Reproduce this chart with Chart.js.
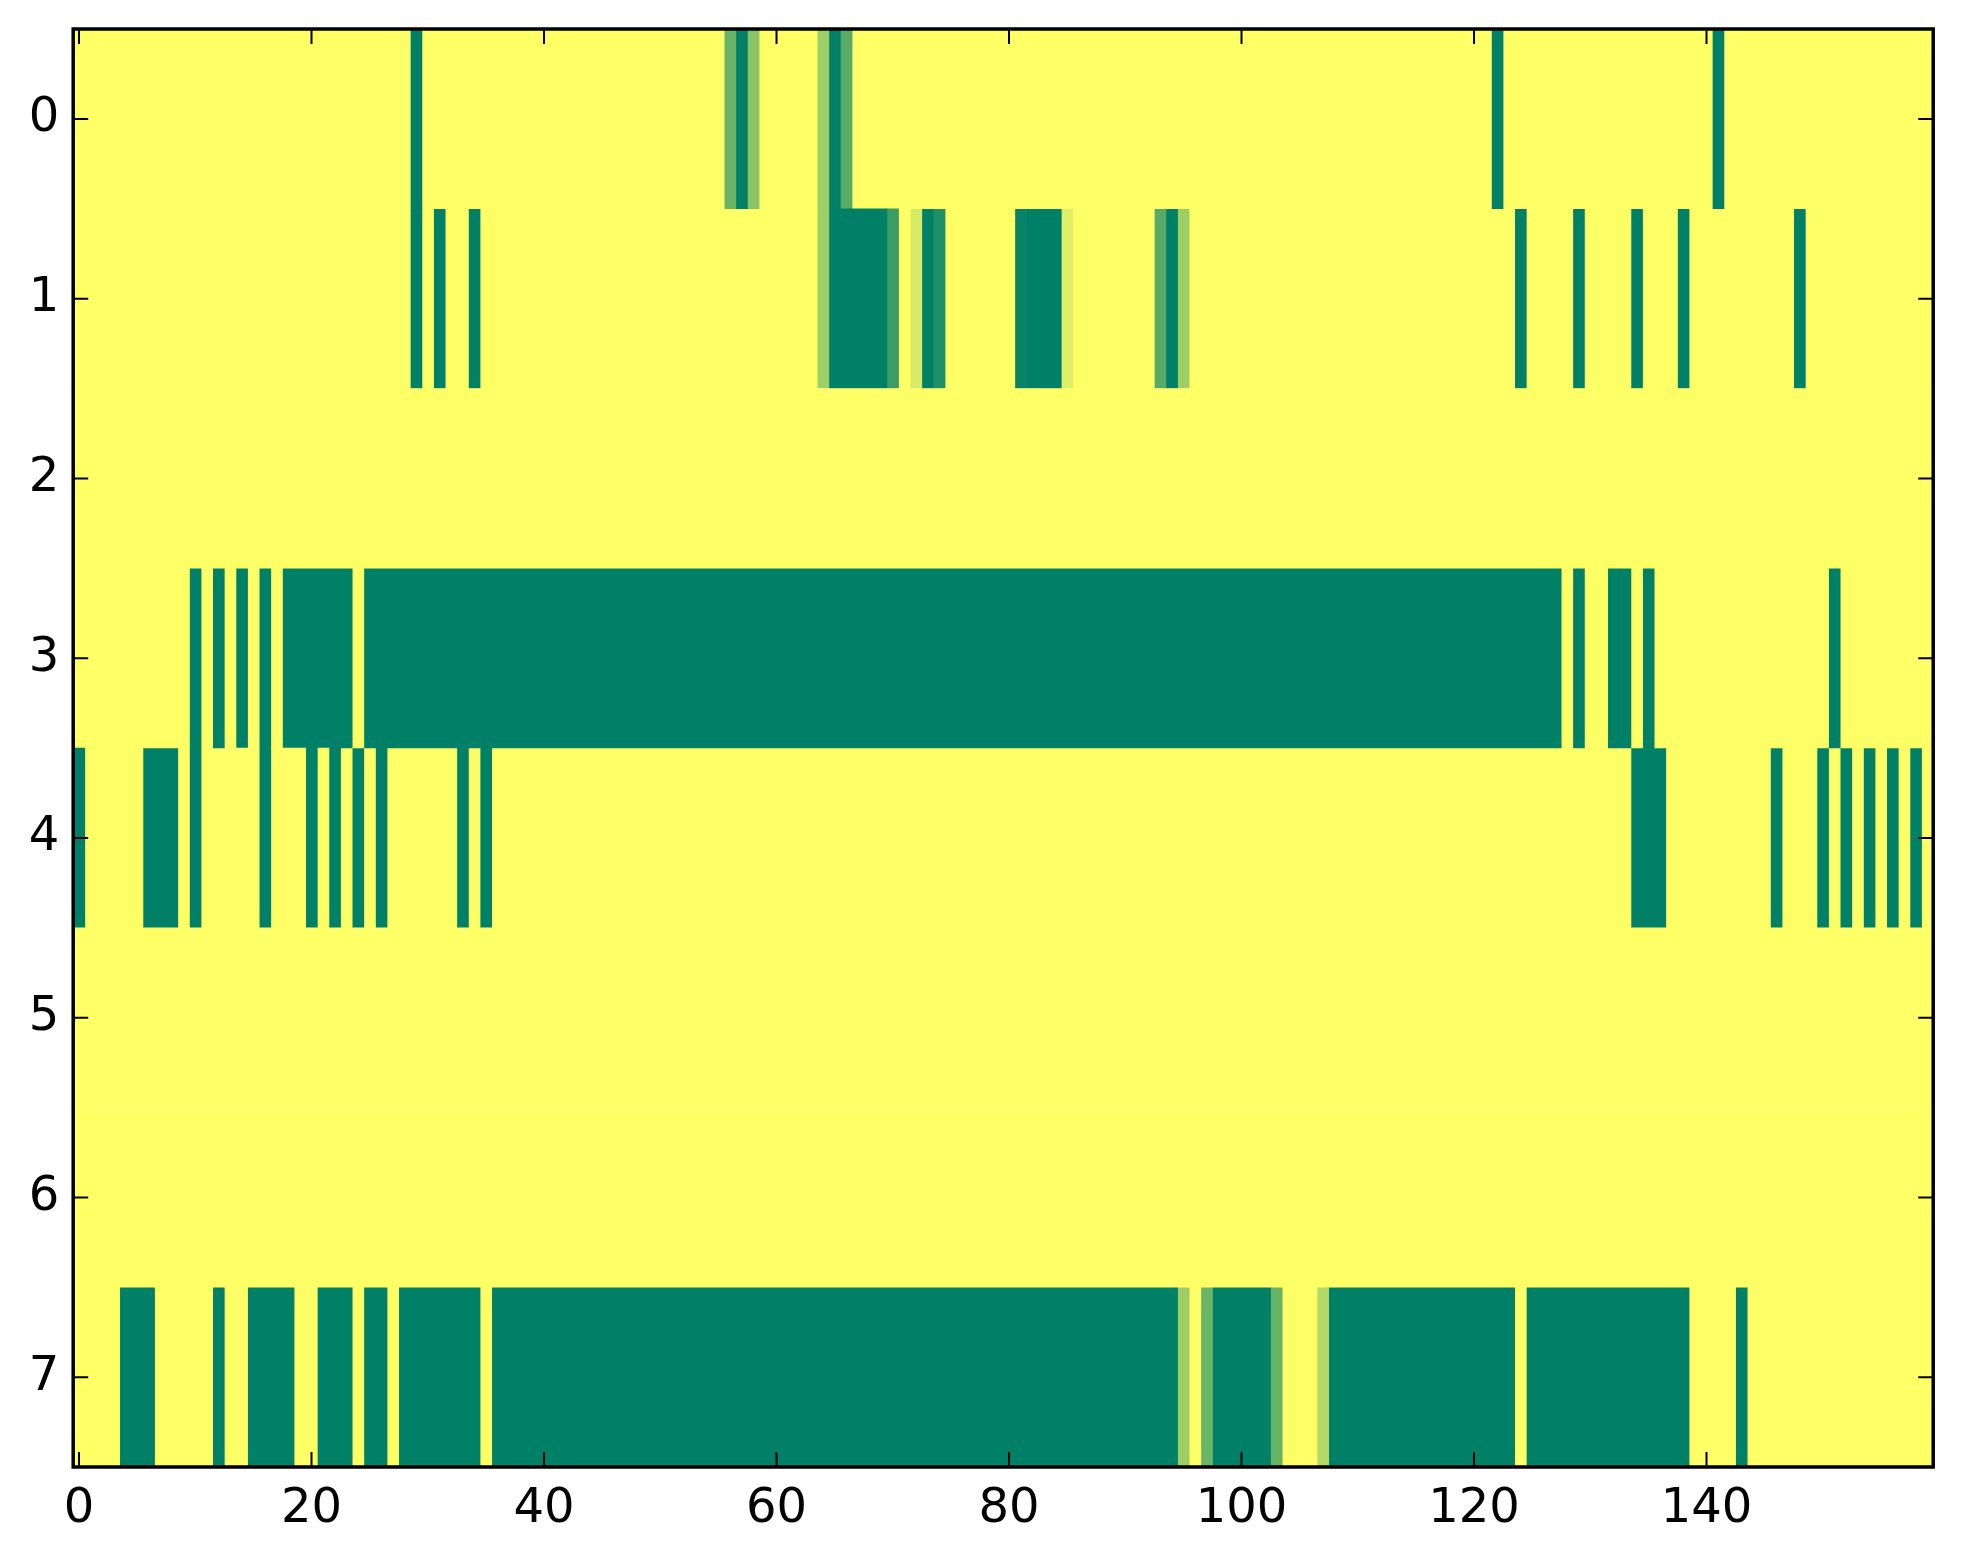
<!DOCTYPE html>
<html>
<head>
<meta charset="utf-8">
<script src="https://cdn.jsdelivr.net/npm/chart.js@4/dist/chart.umd.min.js"></script>
<style>
html,body{margin:0;padding:0;background:#fff;}
#wrap{width:1963px;height:1564px;}
</style>
</head>
<body>
<div id="wrap"><canvas id="c" width="1963" height="1564"></canvas></div>
<script>
// ---- data ----
const rowLabels = ['0','1','2','3','4','5','6','7'];
const xTickValues = [0,20,40,60,80,100,120,140];
const xMin = -0.5, xMax = 159.5;

const row0 = [
1,1,1,1,1,1,1,1,1,1, 1,1,1,1,1,1,1,1,1,1, 1,1,1,1,1,1,1,1,1,0, 1,1,1,1,1,1,1,1,1,1,
1,1,1,1,1,1,1,1,1,1, 1,1,1,1,1,1,0.41,0,0.54,1, 1,1,1,1,0.62,0,0.34,1,1,1, 1,1,1,1,1,1,1,1,1,1,
1,1,1,1,1,1,1,1,1,1, 1,1,1,1,1,1,1,1,1,1, 1,1,1,1,1,1,1,1,1,1, 1,1,1,1,1,1,1,1,1,1,
1,1,0,1,1,1,1,1,1,1, 1,1,1,1,1,1,1,1,1,1, 1,0,1,1,1,1,1,1,1,1, 1,1,1,1,1,1,1,1,1,1];
const row1 = [
1,1,1,1,1,1,1,1,1,1, 1,1,1,1,1,1,1,1,1,1, 1,1,1,1,1,1,1,1,1,0, 1,0,1,1,0,1,1,1,1,1,
1,1,1,1,1,1,1,1,1,1, 1,1,1,1,1,1,1,1,1,1, 1,1,1,1,0.62,0,0,0,0,0, 0.23,1,0.84,0,0.12,1,1,1,1,1,
1,0.03,0,0,0,0.88,1,1,1,1, 1,1,1,0.34,0,0.62,1,1,1,1, 1,1,1,1,1,1,1,1,1,1, 1,1,1,1,1,1,1,1,1,1,
1,1,1,1,0,1,1,1,1,0, 1,1,1,1,0,1,1,1,0,1, 1,1,1,1,1,1,1,1,0,1, 1,1,1,1,1,1,1,1,1,1];
const row2 = [
1,1,1,1,1,1,1,1,1,1, 1,1,1,1,1,1,1,1,1,1, 1,1,1,1,1,1,1,1,1,1, 1,1,1,1,1,1,1,1,1,1,
1,1,1,1,1,1,1,1,1,1, 1,1,1,1,1,1,1,1,1,1, 1,1,1,1,1,1,1,1,1,1, 1,1,1,1,1,1,1,1,1,1,
1,1,1,1,1,1,1,1,1,1, 1,1,1,1,1,1,1,1,1,1, 1,1,1,1,1,1,1,1,1,1, 1,1,1,1,1,1,1,1,1,1,
1,1,1,1,1,1,1,1,1,1, 1,1,1,1,1,1,1,1,1,1, 1,1,1,1,1,1,1,1,1,1, 1,1,1,1,1,1,1,1,1,1];
const row3 = [
1,1,1,1,1,1,1,1,1,1, 0,1,0,1,0,1,0,1,0,0, 0,0,0,0,1,0,0,0,0,0, 0,0,0,0,0,0,0,0,0,0,
0,0,0,0,0,0,0,0,0,0, 0,0,0,0,0,0,0,0,0,0, 0,0,0,0,0,0,0,0,0,0, 0,0,0,0,0,0,0,0,0,0,
0,0,0,0,0,0,0,0,0,0, 0,0,0,0,0,0,0,0,0,0, 0,0,0,0,0,0,0,0,0,0, 0,0,0,0,0,0,0,0,0,0,
0,0,0,0,0,0,0,0,1,0, 1,1,0,0,1,0,1,1,1,1, 1,1,1,1,1,1,1,1,1,1, 1,0,1,1,1,1,1,1,1,1];
const row4 = [
0,1,1,1,1,1,0,0,0,1, 0,1,1,1,1,1,0,1,1,1, 0,1,0,1,0,1,0,1,1,1, 1,1,1,0,1,0,1,1,1,1,
1,1,1,1,1,1,1,1,1,1, 1,1,1,1,1,1,1,1,1,1, 1,1,1,1,1,1,1,1,1,1, 1,1,1,1,1,1,1,1,1,1,
1,1,1,1,1,1,1,1,1,1, 1,1,1,1,1,1,1,1,1,1, 1,1,1,1,1,1,1,1,1,1, 1,1,1,1,1,1,1,1,1,1,
1,1,1,1,1,1,1,1,1,1, 1,1,1,1,0,0,0,1,1,1, 1,1,1,1,1,1,0,1,1,1, 0,1,0,1,0,1,0,1,0,1];
const row5 = [
1,1,1,1,1,1,1,1,1,1, 1,1,1,1,1,1,1,1,1,1, 1,1,1,1,1,1,1,1,1,1, 1,1,1,1,1,1,1,1,1,1,
1,1,1,1,1,1,1,1,1,1, 1,1,1,1,1,1,1,1,1,1, 1,1,1,1,1,1,1,1,1,1, 1,1,1,1,1,1,1,1,1,1,
1,1,1,1,1,1,1,1,1,1, 1,1,1,1,1,1,1,1,1,1, 1,1,1,1,1,1,1,1,1,1, 1,1,1,1,1,1,1,1,1,1,
1,1,1,1,1,1,1,1,1,1, 1,1,1,1,1,1,1,1,1,1, 1,1,1,1,1,1,1,1,1,1, 1,1,1,1,1,1,1,1,1,1];
const row6 = [
1,1,1,1,1,1,1,1,1,1, 1,1,1,1,1,1,1,1,1,1, 1,1,1,1,1,1,1,1,1,1, 1,1,1,1,1,1,1,1,1,1,
1,1,1,1,1,1,1,1,1,1, 1,1,1,1,1,1,1,1,1,1, 1,1,1,1,1,1,1,1,1,1, 1,1,1,1,1,1,1,1,1,1,
1,1,1,1,1,1,1,1,1,1, 1,1,1,1,1,1,1,1,1,1, 1,1,1,1,1,1,1,1,1,1, 1,1,1,1,1,1,1,1,1,1,
1,1,1,1,1,1,1,1,1,1, 1,1,1,1,1,1,1,1,1,1, 1,1,1,1,1,1,1,1,1,1, 1,1,1,1,1,1,1,1,1,1];
const row7 = [
1,1,1,1,0,0,0,1,1,1, 1,1,0,1,1,0,0,0,0,1, 1,0,0,0,1,0,0,1,0,0, 0,0,0,0,0,1,0,0,0,0,
0,0,0,0,0,0,0,0,0,0, 0,0,0,0,0,0,0,0,0,0, 0,0,0,0,0,0,0,0,0,0, 0,0,0,0,0,0,0,0,0,0,
0,0,0,0,0,0,0,0,0,0, 0,0,0,0,0,0.62,1,0.42,0,0, 0,0,0,0.4,1,1,1,0.7,0,0, 0,0,0,0,0,0,0,0,0,0,
0,0,0,0,1,0,0,0,0,0, 0,0,0,0,0,0,0,0,0,1, 1,1,1,0,1,1,1,1,1,1, 1,1,1,1,1,1,1,1,1,1];

const rows = [row0,row1,row2,row3,row4,row5,row6,row7];

// ---- colormap (matplotlib "summer") ----
function summer(v){
  const r = Math.round(255*v);
  const g = Math.round(255*(0.5+0.5*v));
  return 'rgb('+r+','+g+',102)';
}

// group consecutive equal cells into runs (one bar per run)
const rowRuns = rows.map(row => {
  const runs = [];
  let s = 0;
  for (let i = 1; i <= row.length; i++) {
    if (i === row.length || row[i] !== row[s]) {
      runs.push({start: s, end: i-1, v: row[s]});
      s = i;
    }
  }
  return runs;
});
const maxRuns = Math.max(...rowRuns.map(r => r.length));
const datasets = [];
for (let k = 0; k < maxRuns; k++) {
  datasets.push({
    data: rowRuns.map(runs => runs[k] ? [runs[k].start - 0.5, runs[k].end + 0.5] : null),
    backgroundColor: rowRuns.map(runs => runs[k] ? summer(runs[k].v) : 'rgba(0,0,0,0)'),
    borderWidth: 0,
    borderSkipped: false,
    grouped: false,
    barPercentage: 1,
    categoryPercentage: 1
  });
}

const FONT = {family: 'DejaVu Sans', size: 48};
const TICK_LEN = 15;

const framePlugin = {
  id: 'frame',
  afterDatasetsDraw(chart) {
    const ctx = chart.ctx, a = chart.chartArea;
    const xs = chart.scales.x, ys = chart.scales.y;
    ctx.save();
    ctx.strokeStyle = '#000';
    ctx.lineWidth = 2;
    ctx.beginPath();
    xTickValues.forEach(v => {
      const px = xs.getPixelForValue(v);
      ctx.moveTo(px, a.bottom); ctx.lineTo(px, a.bottom - TICK_LEN);
      ctx.moveTo(px, a.top); ctx.lineTo(px, a.top + TICK_LEN);
    });
    rowLabels.forEach((l, i) => {
      const py = ys.getPixelForValue(i);
      ctx.moveTo(a.left, py); ctx.lineTo(a.left + TICK_LEN, py);
      ctx.moveTo(a.right, py); ctx.lineTo(a.right - TICK_LEN, py);
    });
    ctx.stroke();
    ctx.lineWidth = 3.5;
    ctx.strokeRect(a.left, a.top, a.right - a.left, a.bottom - a.top);
    ctx.restore();
  }
};

new Chart(document.getElementById('c'), {
  type: 'bar',
  data: {labels: rowLabels, datasets: datasets},
  plugins: [framePlugin],
  options: {
    indexAxis: 'y',
    responsive: false,
    animation: false,
    devicePixelRatio: 1,
    layout: {padding: {left: 0, top: 29, right: 29.8, bottom: 0}},
    plugins: {legend: {display: false}, tooltip: {enabled: false}},
    scales: {
      x: {
        type: 'linear',
        min: xMin, max: xMax,
        afterBuildTicks: s => { s.ticks = xTickValues.map(v => ({value: v})); },
        afterFit: s => { s.height = 97; s.paddingLeft = 0; s.paddingRight = 0; },
        grid: {display: false, drawTicks: false},
        border: {display: false},
        ticks: {color: '#000', font: FONT, padding: 14, maxRotation: 0, autoSkip: false}
      },
      y: {
        type: 'category',
        offset: true,
        afterFit: s => { s.width = 73.2; s.paddingTop = 0; s.paddingBottom = 0; },
        grid: {display: false, drawTicks: false, offset: true},
        border: {display: false},
        ticks: {color: '#000', font: FONT, padding: 14, autoSkip: false}
      }
    }
  }
});
</script>
</body>
</html>
